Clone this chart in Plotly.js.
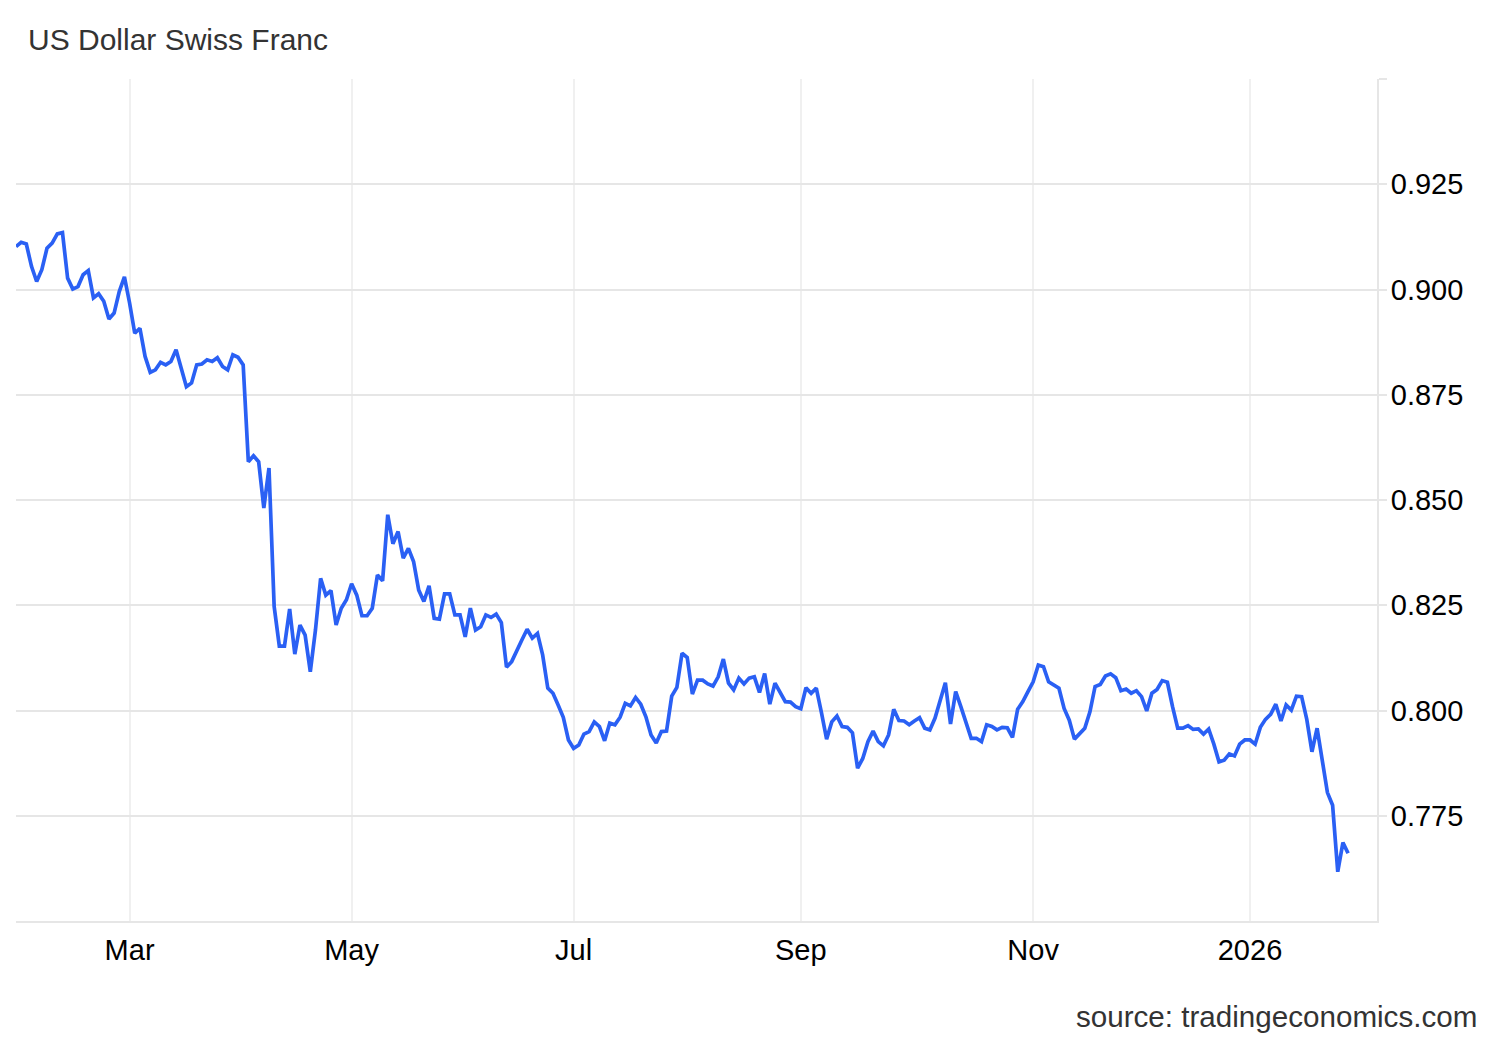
<!DOCTYPE html>
<html>
<head>
<meta charset="utf-8">
<script src="https://cdn.plot.ly/plotly-3.0.1.min.js"></script>
<style>
  html, body { margin: 0; padding: 0; background: #ffffff; }
  #chart { width: 1500px; height: 1040px; }
</style>
</head>
<body>
<div id="chart"></div>
<script>
// USD/CHF daily closes, one value per trading day (weekends and the two
// holidays below have no quote).
const firstDay = "2025-01-30";
const holidays = ["2025-12-25", "2026-01-01"];

const jan2025 = [0.9102, 0.9112];
const feb2025 = [0.9108, 0.9055, 0.9019, 0.9047, 0.9098, 0.9110, 0.9132, 0.9135, 0.9027, 0.9001,
  0.9007, 0.9035, 0.9045, 0.8980, 0.8990, 0.8972, 0.8930, 0.8944, 0.8995, 0.9030];
const mar2025 = [0.8968, 0.8896, 0.8908, 0.8841, 0.8803, 0.8809, 0.8827, 0.8821, 0.8829, 0.8857,
  0.8813, 0.8769, 0.8778, 0.8821, 0.8823, 0.8833, 0.8829, 0.8838, 0.8817, 0.8809, 0.8845];
const apr2025 = [0.8839, 0.8821, 0.8591, 0.8605, 0.8591, 0.8481, 0.8576, 0.8247, 0.8153, 0.8153,
  0.8241, 0.8134, 0.8203, 0.8179, 0.8092, 0.8191, 0.8314, 0.8274, 0.8285, 0.8203, 0.8243, 0.8263];
const may2025 = [0.8301, 0.8274, 0.8225, 0.8225, 0.8243, 0.8322, 0.8308, 0.8465, 0.8396, 0.8425,
  0.8362, 0.8385, 0.8354, 0.8286, 0.8259, 0.8296, 0.8219, 0.8217, 0.8277, 0.8277, 0.8227, 0.8227];
const jun2025 = [0.8175, 0.8243, 0.8191, 0.8199, 0.8227, 0.8221, 0.8229, 0.8209, 0.8103, 0.8116,
  0.8140, 0.8168, 0.8193, 0.8172, 0.8183, 0.8132, 0.8053, 0.8041, 0.8013, 0.7984, 0.7930];
const jul2025 = [0.7910, 0.7918, 0.7944, 0.7950, 0.7973, 0.7962, 0.7928, 0.7970, 0.7966, 0.7984,
  0.8017, 0.8011, 0.8031, 0.8015, 0.7985, 0.7942, 0.7923, 0.7950, 0.7951, 0.8034, 0.8055, 0.8136, 0.8126];
const aug2025 = [0.8039, 0.8072, 0.8072, 0.8063, 0.8058, 0.8080, 0.8122, 0.8065, 0.8049, 0.8077,
  0.8063, 0.8077, 0.8080, 0.8043, 0.8088, 0.8015, 0.8065, 0.8041, 0.8021, 0.8020, 0.8009];
const sep2025 = [0.8004, 0.8054, 0.8041, 0.8053, 0.7995, 0.7932, 0.7973, 0.7987, 0.7962, 0.7960,
  0.7947, 0.7863, 0.7886, 0.7926, 0.7951, 0.7926, 0.7916, 0.7942, 0.8003, 0.7976, 0.7975, 0.7966];
const oct2025 = [0.7975, 0.7983, 0.7958, 0.7954, 0.7982, 0.8025, 0.8066, 0.7968, 0.8045, 0.8009,
  0.7968, 0.7934, 0.7934, 0.7926, 0.7966, 0.7962, 0.7954, 0.7960, 0.7959, 0.7936, 0.8003, 0.8021, 0.8045];
const nov2025 = [0.8068, 0.8108, 0.8104, 0.8068, 0.8061, 0.8053, 0.8005, 0.7977, 0.7932, 0.7946,
  0.7958, 0.7997, 0.8057, 0.8062, 0.8082, 0.8087, 0.8078, 0.8047, 0.8051, 0.8041];
const dec2025 = [0.8047, 0.8033, 0.7999, 0.8041, 0.8050, 0.8071, 0.8067, 0.8009, 0.7958, 0.7958,
  0.7964, 0.7955, 0.7956, 0.7944, 0.7956, 0.7920, 0.7878, 0.7882, 0.7897, 0.7892, 0.7920, 0.7930];
const jan2026 = [0.7930, 0.7920, 0.7960, 0.7979, 0.7991, 0.8015, 0.7975, 0.8013, 0.8001, 0.8034,
  0.8033, 0.7979, 0.7902, 0.7958, 0.7884, 0.7805, 0.7775, 0.7617, 0.7686, 0.7661];

const monthTicks = ["2025-03-03", "2025-05-01", "2025-07-01", "2025-09-01", "2025-11-03", "2026-01-02"];
const monthLabels = ["Mar", "May", "Jul", "Sep", "Nov", "2026"];
const rateTicks = [0.775, 0.8, 0.825, 0.85, 0.875, 0.9, 0.925, 0.95];
const rateLabels = ["0.775", "0.800", "0.825", "0.850", "0.875", "0.900", "0.925", ""];

const FONT = "Liberation Sans, Arial, Helvetica, sans-serif";

function pad(n) {
  return n < 10 ? "0" + n : "" + n;
}

// walk the calendar from firstDay, skipping weekends and holidays
function tradingDays(start, count) {
  const out = [];
  const d = new Date(start + "T00:00:00Z");
  while (out.length < count) {
    const iso = d.getUTCFullYear() + "-" + pad(d.getUTCMonth() + 1) + "-" + pad(d.getUTCDate());
    const dow = d.getUTCDay();
    if (dow !== 0 && dow !== 6 && !holidays.includes(iso)) out.push(iso);
    d.setUTCDate(d.getUTCDate() + 1);
  }
  return out;
}

function renderChart() {
  const rates = [].concat(jan2025, feb2025, mar2025, apr2025, may2025, jun2025,
    jul2025, aug2025, sep2025, oct2025, nov2025, dec2025, jan2026);
  const dates = tradingDays(firstDay, rates.length);

  const trace = {
    type: "scatter",
    mode: "lines",
    x: dates,
    y: rates,
    line: { color: "#2a60f4", width: 3.7 },
    hoverinfo: "skip",
    showlegend: false,
  };

  const layout = {
    width: 1500,
    height: 1040,
    paper_bgcolor: "#ffffff",
    plot_bgcolor: "#ffffff",
    font: { family: FONT, size: 29, color: "#000000" },
    margin: { l: 16, r: 123, t: 79, b: 119, pad: 0 },
    title: {
      text: "US Dollar Swiss Franc",
      font: { family: FONT, size: 30, color: "#333333" },
      xref: "container",
      yref: "container",
      x: 28 / 1500,
      xanchor: "left",
      y: 1 - 39 / 1040,
      yanchor: "middle",
    },
    xaxis: {
      type: "date",
      range: ["2025-01-30", "2026-02-05 14:24"],
      rangebreaks: [{ bounds: ["sat", "mon"] }, { values: holidays }],
      tickmode: "array",
      tickvals: monthTicks,
      ticktext: monthLabels,
      ticks: "",
      showgrid: true,
      gridcolor: "#f0f0f0",
      gridwidth: 2,
      showline: true,
      linecolor: "#e6e6e6",
      linewidth: 2,
      zeroline: false,
      tickfont: { family: FONT, size: 29, color: "#000000" },
      ticklabelstandoff: 2,
    },
    yaxis: {
      side: "right",
      range: [0.75, 0.95],
      tickmode: "array",
      tickvals: rateTicks,
      ticktext: rateLabels,
      ticks: "outside",
      ticklen: 8,
      tickwidth: 2,
      tickcolor: "#e6e6e6",
      showgrid: true,
      gridcolor: "#e6e6e6",
      gridwidth: 2,
      showline: true,
      linecolor: "#e6e6e6",
      linewidth: 2,
      zeroline: false,
      tickfont: { family: FONT, size: 29, color: "#000000" },
      ticklabelstandoff: -2,
    },
    annotations: [{
      text: "source: tradingeconomics.com",
      xref: "paper", yref: "paper",
      x: (1479 - 16) / 1361, y: (920.7 - 1016) / 841.7,
      xanchor: "right", yanchor: "middle",
      showarrow: false,
      font: { family: FONT, size: 29.6, color: "#333333" },
    }],
  };

  Plotly.newPlot("chart", [trace], layout, { displayModeBar: false, staticPlot: true });
}

renderChart();
</script>
</body>
</html>
